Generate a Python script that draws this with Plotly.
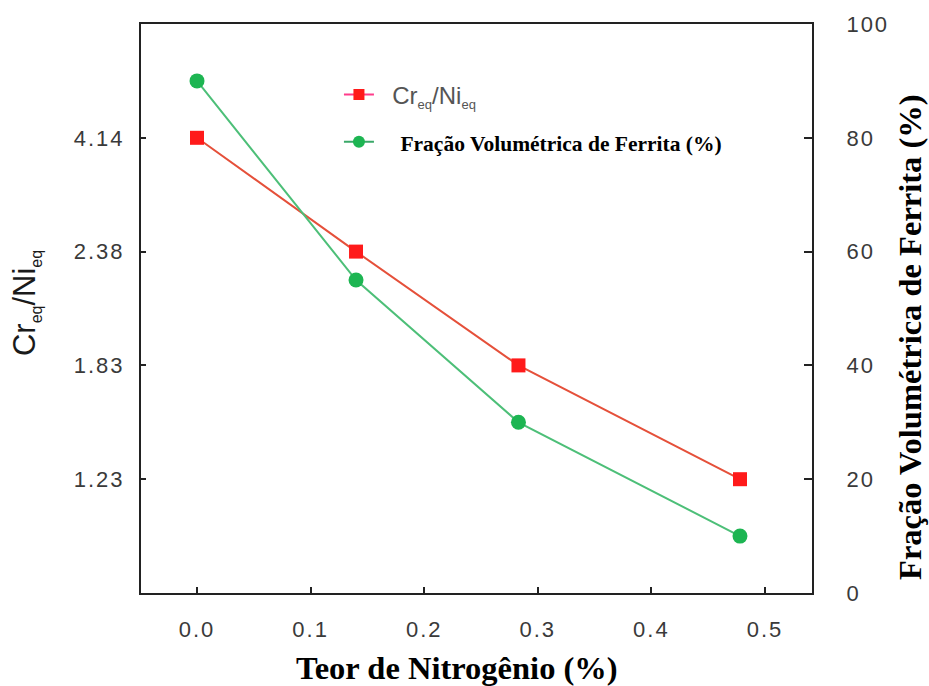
import plotly.graph_objects as go

# ---- data ----
nitrogen = [0.0, 0.14, 0.283, 0.478]          # Teor de Nitrogênio (%)
crni = [4.14, 2.38, 1.83, 1.23]               # Cr_eq/Ni_eq
ferrita = [90.0, 55.0, 30.0, 10.0]            # Fração Volumétrica de Ferrita (%)
crni_axis_labels = ["1.23", "1.83", "2.38", "4.14"]
x_ticks = [0.0, 0.1, 0.2, 0.3, 0.4, 0.5]
y2_ticks = [0, 20, 40, 60, 80, 100]

RED_LINE = "#e5503a"
RED_MK = "#ff1a1a"
GREEN_LINE = "#4dbf78"
GREEN_MK = "#1db552"
TICKFONT = dict(family="Liberation Sans, Arial, sans-serif", size=22, color="#3a3a3a")
SERIF = "Liberation Serif, Times New Roman, serif"
SANS = "Liberation Sans, Arial, sans-serif"


def sp(t):
    return f'<span style="letter-spacing:2px">{t}</span>'


def sub(t, px):
    return f'<sub><span style="font-size:{px}px">{t}</span></sub>'


fig = go.Figure()

# Cr/Ni series on a category axis (non-linear labels)
fig.add_trace(go.Scatter(
    x=nitrogen, y=[f"{v:.2f}" for v in crni], mode="lines+markers",
    line=dict(color=RED_LINE, width=2),
    marker=dict(symbol="square", size=14, color=RED_MK),
    showlegend=False, yaxis="y", name="crni"))

# ferrite fraction on right axis
fig.add_trace(go.Scatter(
    x=nitrogen, y=ferrita, mode="lines+markers",
    line=dict(color=GREEN_LINE, width=2),
    marker=dict(symbol="circle", size=15, color=GREEN_MK),
    showlegend=False, yaxis="y2", name="ferrita"))

# legend entries
fig.add_trace(go.Scatter(
    x=[None], y=[None], mode="lines+markers", yaxis="y2",
    line=dict(color="#ff3d8b", width=2),
    marker=dict(symbol="square", size=11, color=RED_MK),
    legendgroup="a",
    name="&nbsp;&nbsp;Cr" + sub("eq", 13) + "/Ni" + sub("eq", 13)))
fig.add_trace(go.Scatter(
    x=[None], y=[None], mode="lines+markers", yaxis="y2",
    line=dict(color="#3aa868", width=2),
    marker=dict(symbol="circle", size=12, color=GREEN_MK),
    legendgroup="b",
    name='<span style="font-family:Liberation Serif;font-size:21.5px;color:#000">'
         '&nbsp;&nbsp;&nbsp;&nbsp;<b>Fração Volumétrica de Ferrita (%)</b></span>'))

fig.update_layout(
    width=929, height=686,
    margin=dict(l=141, r=117, t=22, b=93),
    plot_bgcolor="white", paper_bgcolor="white",
    showlegend=True,
    legend=dict(x=0.295, y=0.915, xanchor="left", yanchor="top",
                bgcolor="rgba(0,0,0,0)", tracegroupgap=13,
                traceorder="grouped",
                font=dict(family=SANS, size=24, color="#555")),
    xaxis=dict(range=[-0.0493, 0.5414], tickmode="array", tickvals=x_ticks,
               ticktext=[sp(f"{v:.1f}") for v in x_ticks],
               ticks="inside", ticklen=6, tickwidth=1.5, tickcolor="#222",
               showline=True, linecolor="#222", linewidth=2, mirror=True,
               showgrid=False, zeroline=False, tickfont=TICKFONT,
               ticklabelstandoff=16),
    yaxis=dict(type="category", categoryarray=crni_axis_labels, range=[-1, 4],
               tickmode="array", tickvals=crni_axis_labels,
               ticktext=[sp(t) for t in crni_axis_labels],
               ticks="inside", ticklen=5, tickwidth=1.5, tickcolor="#222",
               showline=True, linecolor="#222", linewidth=2,
               showgrid=False, zeroline=False, tickfont=TICKFONT,
               ticklabelstandoff=10),
    yaxis2=dict(overlaying="y", side="right", range=[0, 100],
                tickmode="array", tickvals=y2_ticks,
                ticktext=[sp(str(v)) for v in y2_ticks],
                ticks="inside", ticklen=8, tickwidth=1.5, tickcolor="#222",
                showline=True, linecolor="#222", linewidth=2,
                showgrid=False, zeroline=False, tickfont=TICKFONT,
                ticklabelstandoff=28),
    annotations=[
        dict(text="<b>Teor de Nitrogênio (%)</b>", xref="paper", yref="paper",
             x=0.471, y=-0.131, xanchor="center", yanchor="middle", showarrow=False,
             font=dict(family=SERIF, size=32.5, color="#000")),
        dict(text="<b>Fração Volumétrica de Ferrita (%)</b>", xref="paper", yref="paper",
             x=1.146, y=0.450, xanchor="center", yanchor="middle", showarrow=False,
             textangle=-90, font=dict(family=SERIF, size=32.5, color="#000")),
        dict(text="Cr" + sub("eq", 16) + "/Ni" + sub("eq", 16), xref="paper", yref="paper",
             x=-0.171, y=0.51, xanchor="center", yanchor="middle", showarrow=False,
             textangle=-90, font=dict(family=SANS, size=31, color="#1a1a1a")),
    ],
)

fig.write_html("out.html")
